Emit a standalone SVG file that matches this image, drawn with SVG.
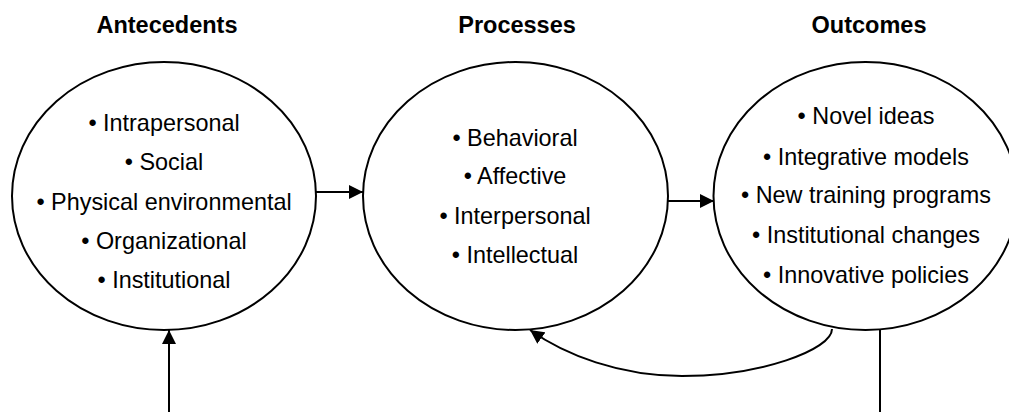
<svg xmlns="http://www.w3.org/2000/svg" width="1009" height="412" viewBox="0 0 1009 412">
<style>
.node ellipse{fill:#fff;stroke:#000;stroke-width:2}
.hdr{font-family:"Liberation Sans",Arial,sans-serif;font-weight:bold;font-size:23.5px;text-anchor:middle;fill:#000}
.item{font-family:"Liberation Sans",Arial,sans-serif;font-size:23.4px;text-anchor:middle;fill:#000}
.conn{fill:none;stroke:#000;stroke-width:2}
</style>
<defs>
<marker id="ah" viewBox="0 0 14 14" refX="14" refY="7" markerWidth="14" markerHeight="14" markerUnits="userSpaceOnUse" orient="auto">
<path d="M0,0 L14,7 L0,14 Z" fill="#000"/>
</marker>
</defs>
<g id="headers">
<text class="hdr" x="167" y="33">Antecedents</text>
<text class="hdr" x="517" y="33">Processes</text>
<text class="hdr" x="869" y="33">Outcomes</text>
</g>
<g id="antecedents" class="node">
<ellipse cx="164" cy="196" rx="152" ry="134"/>
<text class="item" x="164" y="131">• Intrapersonal</text>
<text class="item" x="164" y="170">• Social</text>
<text class="item" x="164" y="209.5">• Physical environmental</text>
<text class="item" x="164" y="249">• Organizational</text>
<text class="item" x="164" y="288">• Institutional</text>
</g>
<g id="processes" class="node">
<ellipse cx="515.5" cy="196" rx="152.5" ry="134"/>
<text class="item" x="515" y="146">• Behavioral</text>
<text class="item" x="515" y="184">• Affective</text>
<text class="item" x="515" y="224">• Interpersonal</text>
<text class="item" x="515" y="263">• Intellectual</text>
</g>
<g id="outcomes" class="node">
<ellipse cx="865.5" cy="196" rx="152" ry="134"/>
<text class="item" x="866" y="124">• Novel ideas</text>
<text class="item" x="866" y="165">• Integrative models</text>
<text class="item" x="866" y="203">• New training programs</text>
<text class="item" x="866" y="243">• Institutional changes</text>
<text class="item" x="866" y="283">• Innovative policies</text>
</g>
<g id="connectors">
<line class="conn" x1="316" y1="192" x2="363" y2="192" marker-end="url(#ah)"/>
<line class="conn" x1="668" y1="201" x2="714" y2="201" marker-end="url(#ah)"/>
<line class="conn" x1="169" y1="412" x2="169" y2="330" marker-end="url(#ah)"/>
<line class="conn" x1="880" y1="329" x2="880" y2="412"/>
<path class="conn" d="M832,329 C832,350 760,376 682,376 C620,376 565,355 530,330" marker-end="url(#ah)"/>
</g>
</svg>
